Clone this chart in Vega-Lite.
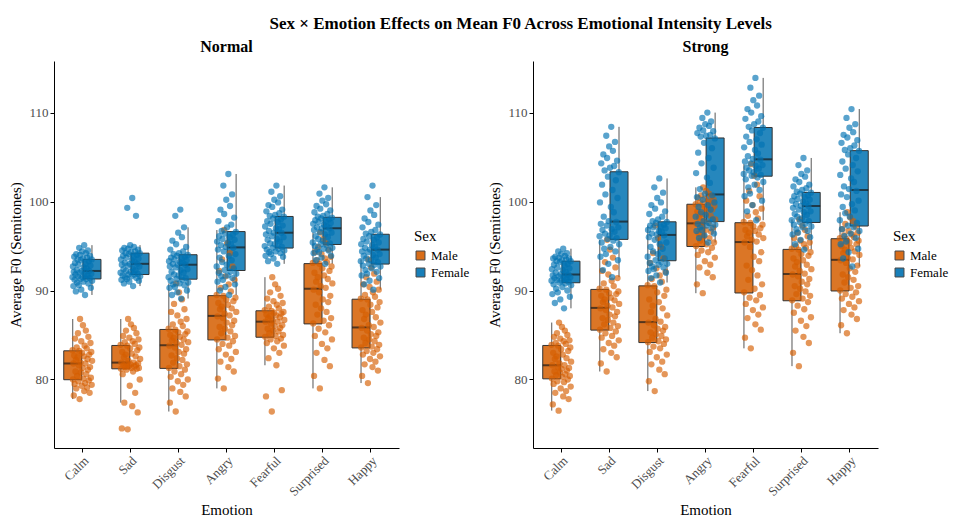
{
  "$schema": "https://vega.github.io/schema/vega-lite/v6.json",
  "background": "white",
  "padding": {"left": 8, "right": 0, "top": 15, "bottom": 0},
  "title": {"text": "Sex × Emotion Effects on Mean F0 Across Emotional Intensity Levels", "font": "Liberation Serif", "fontSize": 17, "fontWeight": "bold", "color": "black", "anchor": "middle", "offset": 6, "dx": 42},
  "config": {
    "font": "Liberation Serif",
    "view": {"stroke": null},
    "axis": {"domainColor": "black", "tickColor": "black", "labelColor": "#4d4d4d", "labelFontSize": 13, "titleFontSize": 15, "titleFontWeight": "normal", "titleColor": "black", "labelFont": "Liberation Serif", "titleFont": "Liberation Serif", "grid": false, "tickSize": 4, "domainWidth": 1, "tickWidth": 1},
    "legend": {"titleFont": "Liberation Serif", "labelFont": "Liberation Serif", "titleFontSize": 15, "titleFontWeight": "normal", "labelFontSize": 13, "titleColor": "black", "labelColor": "black", "symbolType": "square", "symbolSize": 80, "symbolStrokeColor": "#333333", "symbolStrokeWidth": 1, "symbolOpacity": 0.9, "rowPadding": 3}
  },
  "data": {"values": [
    {"Intensity":"Normal","Emotion":"Calm","Sex":"Male","F0":[77.8,78.2,78.5,78.7,79.0,79.1,79.3,79.4,79.5,79.6,79.8,79.9,80.0,80.1,80.2,80.4,80.6,80.8,80.9,81.1,81.3,81.4,81.6,81.8,81.8,81.9,82.1,82.2,82.3,82.5,82.6,82.7,82.8,83.0,83.1,83.2,83.3,83.5,83.6,83.8,84.1,84.3,84.6,84.8,85.2,85.5,86.1,86.8],"obs":[17,3,41,28,9,35,22,46,5,30,14,39,1,26,44,11,33,20,7,37,24,42,15,2,31,19,47,8,36,12,27,4,40,23,45,16,0,34,10,29,43,21,6,38,13,32,25,18]},
    {"Intensity":"Normal","Emotion":"Calm","Sex":"Female","F0":[89.5,89.9,90.1,90.3,90.5,90.6,90.8,90.9,91.0,91.1,91.2,91.3,91.3,91.4,91.5,91.5,91.6,91.7,91.8,91.9,91.9,92.0,92.1,92.2,92.2,92.3,92.5,92.6,92.7,92.8,92.9,93.0,93.1,93.3,93.4,93.5,93.5,93.6,93.7,93.8,93.9,94.0,94.1,94.2,94.4,94.5,94.8,95.1],"obs":[30,8,21,44,2,15,38,11,26,47,5,33,19,41,0,24,13,36,7,29,45,17,3,40,22,10,34,27,1,43,14,31,6,39,20,46,12,25,35,4,42,18,9,32,23,37,16,28]},
    {"Intensity":"Normal","Emotion":"Sad","Sex":"Male","F0":[74.4,74.5,76.3,77.0,77.4,78.5,79.3,80.0,80.6,80.9,81.1,81.2,81.2,81.3,81.3,81.4,81.5,81.5,81.6,81.6,81.7,81.8,81.8,81.9,81.9,82.1,82.3,82.5,82.6,82.8,82.9,83.1,83.3,83.5,83.6,83.8,83.9,84.0,84.2,84.3,84.5,84.7,84.9,85.2,85.5,85.8,86.2,86.8],"obs":[17,3,41,28,9,35,22,46,5,30,14,39,1,26,44,11,33,20,7,37,24,42,15,2,31,19,47,8,36,12,27,4,40,23,45,16,0,34,10,29,43,21,6,38,13,32,25,18]},
    {"Intensity":"Normal","Emotion":"Sad","Sex":"Female","F0":[90.5,90.8,91.0,91.1,91.2,91.3,91.4,91.5,91.6,91.6,91.7,91.8,91.8,91.9,92.0,92.1,92.2,92.3,92.4,92.5,92.7,92.8,92.9,93.0,93.0,93.1,93.2,93.4,93.5,93.6,93.7,93.8,93.9,94.0,94.1,94.2,94.2,94.3,94.4,94.5,94.6,94.7,94.8,94.9,95.1,98.4,99.3,100.4],"obs":[30,8,21,44,2,15,38,11,26,47,5,33,19,41,0,24,13,36,7,29,45,17,3,40,22,10,34,27,1,43,14,31,6,39,20,46,12,25,35,4,42,18,9,32,23,37,16,28]},
    {"Intensity":"Normal","Emotion":"Disgust","Sex":"Male","F0":[76.4,77.4,78.1,78.6,79.0,79.4,79.8,80.0,80.3,80.6,80.9,81.1,81.3,81.5,81.7,81.9,82.2,82.4,82.7,82.9,83.1,83.4,83.6,83.8,83.9,84.1,84.2,84.4,84.5,84.7,84.8,85.0,85.1,85.3,85.4,85.6,85.7,86.0,86.2,86.5,86.8,87.2,87.6,87.9,88.5,89.0,89.8,90.8],"obs":[17,3,41,28,9,35,22,46,5,30,14,39,1,26,44,11,33,20,7,37,24,42,15,2,31,19,47,8,36,12,27,4,40,23,45,16,0,34,10,29,43,21,6,38,13,32,25,18]},
    {"Intensity":"Normal","Emotion":"Disgust","Sex":"Female","F0":[89.1,89.5,89.8,90.0,90.3,90.4,90.6,90.7,90.8,90.9,91.1,91.2,91.3,91.4,91.5,91.7,91.8,92.0,92.1,92.3,92.4,92.6,92.7,92.9,92.9,93.0,93.1,93.2,93.3,93.4,93.5,93.6,93.7,93.8,93.9,94.0,94.1,94.2,94.4,94.6,94.9,95.2,95.6,96.0,96.5,97.1,98.4,99.1],"obs":[30,8,21,44,2,15,38,11,26,47,5,33,19,41,0,24,13,36,7,29,45,17,3,40,22,10,34,27,1,43,14,31,6,39,20,46,12,25,35,4,42,18,9,32,23,37,16,28]},
    {"Intensity":"Normal","Emotion":"Angry","Sex":"Male","F0":[79.0,80.1,80.9,81.4,82.0,82.3,82.8,83.1,83.4,83.8,84.0,84.3,84.5,84.7,84.9,85.2,85.4,85.7,85.9,86.1,86.4,86.6,86.9,87.1,87.2,87.4,87.6,87.9,88.0,88.2,88.4,88.6,88.8,89.0,89.2,89.4,89.5,89.9,90.3,90.7,91.2,91.6,92.2,92.7,93.5,94.2,95.3,96.8],"obs":[17,3,41,28,9,35,22,46,5,30,14,39,1,26,44,11,33,20,7,37,24,42,15,2,31,19,47,8,36,12,27,4,40,23,45,16,0,34,10,29,43,21,6,38,13,32,25,18]},
    {"Intensity":"Normal","Emotion":"Angry","Sex":"Female","F0":[89.5,90.0,90.4,90.7,91.0,91.2,91.4,91.6,91.7,91.9,92.0,92.1,92.3,92.5,92.7,92.9,93.2,93.4,93.7,93.9,94.1,94.4,94.6,94.8,94.9,95.1,95.2,95.4,95.5,95.7,95.8,96.0,96.1,96.3,96.4,96.6,96.7,97.1,97.4,97.8,98.2,98.6,99.1,99.5,100.2,100.8,101.8,103.1],"obs":[30,8,21,44,2,15,38,11,26,47,5,33,19,41,0,24,13,36,7,29,45,17,3,40,22,10,34,27,1,43,14,31,6,39,20,46,12,25,35,4,42,18,9,32,23,37,16,28]},
    {"Intensity":"Normal","Emotion":"Fearful","Sex":"Male","F0":[76.4,78.1,78.8,81.6,82.4,83.0,83.5,83.8,84.1,84.3,84.5,84.6,84.8,84.9,85.0,85.2,85.4,85.5,85.7,85.8,86.0,86.1,86.3,86.5,86.5,86.6,86.7,86.9,87.0,87.1,87.2,87.3,87.4,87.5,87.6,87.7,87.8,88.0,88.2,88.4,88.6,88.8,89.1,89.4,89.8,90.2,90.7,91.5],"obs":[17,3,41,28,9,35,22,46,5,30,14,39,1,26,44,11,33,20,7,37,24,42,15,2,31,19,47,8,36,12,27,4,40,23,45,16,0,34,10,29,43,21,6,38,13,32,25,18]},
    {"Intensity":"Normal","Emotion":"Fearful","Sex":"Female","F0":[93.0,93.3,93.6,93.8,93.9,94.1,94.2,94.3,94.4,94.5,94.6,94.7,94.8,94.9,95.0,95.2,95.3,95.5,95.7,95.8,96.0,96.1,96.3,96.5,96.5,96.7,96.9,97.0,97.2,97.3,97.5,97.7,97.8,98.0,98.1,98.3,98.4,98.5,98.7,98.9,99.1,99.4,99.6,99.9,100.2,100.6,101.1,101.8],"obs":[30,8,21,44,2,15,38,11,26,47,5,33,19,41,0,24,13,36,7,29,45,17,3,40,22,10,34,27,1,43,14,31,6,39,20,46,12,25,35,4,42,18,9,32,23,37,16,28]},
    {"Intensity":"Normal","Emotion":"Surprised","Sex":"Male","F0":[79.0,80.4,81.5,82.2,83.0,83.5,84.0,84.5,84.9,85.3,85.7,86.1,86.3,86.6,86.9,87.3,87.6,88.0,88.4,88.7,89.0,89.4,89.8,90.1,90.3,90.5,90.8,91.0,91.3,91.5,91.7,92.0,92.2,92.5,92.7,93.0,93.1,93.2,93.4,93.6,93.8,94.1,94.3,94.6,94.9,95.3,95.8,96.5],"obs":[17,3,41,28,9,35,22,46,5,30,14,39,1,26,44,11,33,20,7,37,24,42,15,2,31,19,47,8,36,12,27,4,40,23,45,16,0,34,10,29,43,21,6,38,13,32,25,18]},
    {"Intensity":"Normal","Emotion":"Surprised","Sex":"Female","F0":[93.0,93.4,93.7,93.9,94.2,94.3,94.5,94.6,94.7,94.8,95.0,95.1,95.2,95.3,95.4,95.6,95.8,96.0,96.1,96.3,96.5,96.6,96.8,97.0,97.0,97.1,97.2,97.4,97.5,97.6,97.7,97.8,97.9,98.0,98.1,98.2,98.3,98.4,98.6,98.8,99.0,99.2,99.5,99.7,100.1,100.4,100.9,101.6],"obs":[30,8,21,44,2,15,38,11,26,47,5,33,19,41,0,24,13,36,7,29,45,17,3,40,22,10,34,27,1,43,14,31,6,39,20,46,12,25,35,4,42,18,9,32,23,37,16,28]},
    {"Intensity":"Normal","Emotion":"Happy","Sex":"Male","F0":[79.6,80.4,81.0,81.4,81.7,82.0,82.3,82.6,82.8,83.0,83.2,83.4,83.6,83.7,83.9,84.1,84.3,84.5,84.7,84.9,85.1,85.3,85.5,85.8,85.9,86.1,86.4,86.8,87.0,87.3,87.6,87.8,88.1,88.4,88.7,89.0,89.1,89.3,89.5,89.8,90.1,90.4,90.7,91.0,91.5,91.9,92.6,93.5],"obs":[17,3,41,28,9,35,22,46,5,30,14,39,1,26,44,11,33,20,7,37,24,42,15,2,31,19,47,8,36,12,27,4,40,23,45,16,0,34,10,29,43,21,6,38,13,32,25,18]},
    {"Intensity":"Normal","Emotion":"Happy","Sex":"Female","F0":[90.1,90.7,91.1,91.4,91.7,91.9,92.1,92.3,92.5,92.7,92.8,92.9,93.0,93.2,93.3,93.4,93.6,93.7,93.9,94.0,94.1,94.3,94.4,94.6,94.6,94.8,94.9,95.1,95.2,95.4,95.5,95.7,95.8,96.0,96.1,96.3,96.4,96.6,96.8,97.1,97.4,97.7,98.1,98.5,99.0,99.6,100.5,101.8],"obs":[30,8,21,44,2,15,38,11,26,47,5,33,19,41,0,24,13,36,7,29,45,17,3,40,22,10,34,27,1,43,14,31,6,39,20,46,12,25,35,4,42,18,9,32,23,37,16,28]},
    {"Intensity":"Strong","Emotion":"Calm","Sex":"Male","F0":[76.5,77.2,77.8,78.1,78.5,78.7,79.0,79.2,79.5,79.7,79.8,80.0,80.1,80.3,80.4,80.5,80.6,80.8,80.9,81.0,81.2,81.3,81.4,81.6,81.6,81.8,82.0,82.3,82.4,82.6,82.8,83.0,83.2,83.4,83.6,83.8,83.9,84.0,84.1,84.3,84.4,84.6,84.8,85.0,85.2,85.5,85.9,86.4],"obs":[17,3,41,28,9,35,22,46,5,30,14,39,1,26,44,11,33,20,7,37,24,42,15,2,31,19,47,8,36,12,27,4,40,23,45,16,0,34,10,29,43,21,6,38,13,32,25,18]},
    {"Intensity":"Strong","Emotion":"Calm","Sex":"Female","F0":[88.0,88.6,89.0,89.3,89.6,89.8,90.0,90.2,90.4,90.6,90.7,90.8,90.9,91.0,91.1,91.1,91.2,91.3,91.4,91.5,91.5,91.6,91.7,91.8,91.8,92.0,92.1,92.3,92.4,92.5,92.6,92.8,92.9,93.0,93.2,93.3,93.3,93.4,93.5,93.6,93.6,93.7,93.8,93.9,94.1,94.2,94.4,94.7],"obs":[30,8,21,44,2,15,38,11,26,47,5,33,19,41,0,24,13,36,7,29,45,17,3,40,22,10,34,27,1,43,14,31,6,39,20,46,12,25,35,4,42,18,9,32,23,37,16,28]},
    {"Intensity":"Strong","Emotion":"Sad","Sex":"Male","F0":[80.9,81.8,82.5,83.0,83.4,83.8,84.1,84.4,84.7,84.9,85.2,85.4,85.6,85.8,86.0,86.2,86.4,86.7,86.9,87.1,87.3,87.6,87.8,88.0,88.1,88.3,88.5,88.7,88.9,89.0,89.2,89.4,89.6,89.7,89.9,90.1,90.2,90.5,90.8,91.1,91.4,91.8,92.2,92.6,93.2,93.7,94.6,95.7],"obs":[17,3,41,28,9,35,22,46,5,30,14,39,1,26,44,11,33,20,7,37,24,42,15,2,31,19,47,8,36,12,27,4,40,23,45,16,0,34,10,29,43,21,6,38,13,32,25,18]},
    {"Intensity":"Strong","Emotion":"Sad","Sex":"Female","F0":[91.5,92.3,93.0,93.4,93.8,94.1,94.4,94.7,94.9,95.2,95.4,95.6,95.8,95.9,96.1,96.2,96.4,96.6,96.8,96.9,97.1,97.3,97.5,97.7,97.8,98.3,98.8,99.4,99.9,100.4,100.8,101.3,101.9,102.4,102.8,103.3,103.5,103.8,104.0,104.3,104.6,104.9,105.3,105.7,106.2,106.7,107.4,108.4],"obs":[30,8,21,44,2,15,38,11,26,47,5,33,19,41,0,24,13,36,7,29,45,17,3,40,22,10,34,27,1,43,14,31,6,39,20,46,12,25,35,4,42,18,9,32,23,37,16,28]},
    {"Intensity":"Strong","Emotion":"Disgust","Sex":"Male","F0":[78.7,79.8,80.6,81.1,81.7,82.0,82.5,82.8,83.1,83.5,83.7,84.0,84.2,84.3,84.5,84.7,84.9,85.1,85.3,85.5,85.7,85.9,86.1,86.4,86.5,86.8,87.2,87.6,88.0,88.3,88.7,89.0,89.4,89.8,90.1,90.5,90.6,91.0,91.3,91.7,92.1,92.5,93.1,93.6,94.2,94.9,95.9,97.3],"obs":[17,3,41,28,9,35,22,46,5,30,14,39,1,26,44,11,33,20,7,37,24,42,15,2,31,19,47,8,36,12,27,4,40,23,45,16,0,34,10,29,43,21,6,38,13,32,25,18]},
    {"Intensity":"Strong","Emotion":"Disgust","Sex":"Female","F0":[90.9,91.4,91.7,92.0,92.2,92.4,92.6,92.7,92.9,93.0,93.1,93.2,93.4,93.6,93.8,94.1,94.4,94.7,94.9,95.2,95.4,95.7,96.0,96.2,96.3,96.4,96.6,96.7,96.8,97.0,97.1,97.2,97.3,97.4,97.6,97.7,97.8,98.0,98.3,98.6,98.9,99.2,99.6,99.9,100.4,101.0,101.6,102.6],"obs":[30,8,21,44,2,15,38,11,26,47,5,33,19,41,0,24,13,36,7,29,45,17,3,40,22,10,34,27,1,43,14,31,6,39,20,46,12,25,35,4,42,18,9,32,23,37,16,28]},
    {"Intensity":"Strong","Emotion":"Angry","Sex":"Male","F0":[89.7,90.7,91.5,92.0,92.6,92.9,93.3,93.7,94.0,94.3,94.5,94.8,95.0,95.2,95.4,95.6,95.9,96.1,96.4,96.6,96.8,97.1,97.3,97.5,97.6,97.8,98.0,98.2,98.4,98.6,98.8,98.9,99.1,99.3,99.5,99.7,99.7,99.8,99.9,100.0,100.2,100.3,100.4,100.6,100.7,100.9,101.2,101.6],"obs":[17,3,41,28,9,35,22,46,5,30,14,39,1,26,44,11,33,20,7,37,24,42,15,2,31,19,47,8,36,12,27,4,40,23,45,16,0,34,10,29,43,21,6,38,13,32,25,18]},
    {"Intensity":"Strong","Emotion":"Angry","Sex":"Female","F0":[95.4,95.9,96.2,96.4,96.7,96.8,97.0,97.1,97.3,97.4,97.5,97.6,97.8,98.0,98.3,98.5,98.8,99.1,99.4,99.6,99.9,100.2,100.5,100.7,100.9,101.4,102.1,102.7,103.2,103.8,104.3,104.9,105.5,106.0,106.6,107.1,107.3,107.4,107.5,107.7,107.9,108.0,108.3,108.5,108.7,109.0,109.4,110.0],"obs":[30,8,21,44,2,15,38,11,26,47,5,33,19,41,0,24,13,36,7,29,45,17,3,40,22,10,34,27,1,43,14,31,6,39,20,46,12,25,35,4,42,18,9,32,23,37,16,28]},
    {"Intensity":"Strong","Emotion":"Fearful","Sex":"Male","F0":[83.5,84.7,85.6,86.2,86.9,87.3,87.8,88.1,88.5,88.9,89.2,89.5,89.8,90.2,90.7,91.2,91.7,92.3,92.8,93.3,93.8,94.3,94.9,95.4,95.5,95.7,95.9,96.1,96.3,96.5,96.7,96.8,97.0,97.2,97.4,97.6,97.7,98.1,98.4,98.8,99.2,99.6,100.1,100.6,101.2,101.9,102.9,104.2],"obs":[17,3,41,28,9,35,22,46,5,30,14,39,1,26,44,11,33,20,7,37,24,42,15,2,31,19,47,8,36,12,27,4,40,23,45,16,0,34,10,29,43,21,6,38,13,32,25,18]},
    {"Intensity":"Strong","Emotion":"Fearful","Sex":"Female","F0":[97.9,98.9,99.6,100.1,100.6,100.9,101.3,101.6,101.9,102.2,102.5,102.7,102.9,103.0,103.1,103.3,103.5,103.7,103.8,104.0,104.1,104.3,104.5,104.7,104.8,105.1,105.4,105.8,106.1,106.4,106.7,107.0,107.3,107.7,108.0,108.3,108.4,108.7,109.0,109.3,109.6,110.0,110.4,110.8,111.4,111.9,112.8,113.9],"obs":[30,8,21,44,2,15,38,11,26,47,5,33,19,41,0,24,13,36,7,29,45,17,3,40,22,10,34,27,1,43,14,31,6,39,20,46,12,25,35,4,42,18,9,32,23,37,16,28]},
    {"Intensity":"Strong","Emotion":"Surprised","Sex":"Male","F0":[81.5,83.0,84.1,84.8,85.5,86.0,86.6,87.0,87.5,87.9,88.3,88.7,88.9,89.1,89.4,89.6,89.9,90.2,90.5,90.7,91.0,91.3,91.6,91.8,91.9,92.2,92.4,92.7,92.9,93.2,93.4,93.6,93.9,94.1,94.3,94.6,94.7,94.8,95.0,95.2,95.4,95.6,95.9,96.1,96.5,96.8,97.3,98.0],"obs":[17,3,41,28,9,35,22,46,5,30,14,39,1,26,44,11,33,20,7,37,24,42,15,2,31,19,47,8,36,12,27,4,40,23,45,16,0,34,10,29,43,21,6,38,13,32,25,18]},
    {"Intensity":"Strong","Emotion":"Surprised","Sex":"Female","F0":[94.6,95.2,95.7,96.0,96.3,96.5,96.7,96.9,97.1,97.2,97.4,97.5,97.7,97.8,97.9,98.1,98.3,98.5,98.6,98.8,98.9,99.1,99.3,99.5,99.5,99.7,99.8,100.0,100.1,100.2,100.3,100.5,100.6,100.7,100.9,101.0,101.1,101.3,101.5,101.7,101.9,102.2,102.5,102.8,103.1,103.5,104.1,104.9],"obs":[30,8,21,44,2,15,38,11,26,47,5,33,19,41,0,24,13,36,7,29,45,17,3,40,22,10,34,27,1,43,14,31,6,39,20,46,12,25,35,4,42,18,9,32,23,37,16,28]},
    {"Intensity":"Strong","Emotion":"Happy","Sex":"Male","F0":[85.2,86.1,86.8,87.3,87.8,88.1,88.5,88.8,89.1,89.3,89.6,89.8,90.0,90.3,90.5,90.9,91.2,91.5,91.8,92.1,92.5,92.8,93.1,93.4,93.5,93.7,94.0,94.2,94.4,94.6,94.8,95.0,95.2,95.4,95.6,95.8,95.9,96.0,96.2,96.3,96.5,96.7,96.9,97.2,97.5,97.8,98.2,98.8],"obs":[17,3,41,28,9,35,22,46,5,30,14,39,1,26,44,11,33,20,7,37,24,42,15,2,31,19,47,8,36,12,27,4,40,23,45,16,0,34,10,29,43,21,6,38,13,32,25,18]},
    {"Intensity":"Strong","Emotion":"Happy","Sex":"Female","F0":[92.7,93.6,94.3,94.7,95.2,95.5,95.9,96.1,96.4,96.7,96.9,97.1,97.3,97.6,97.9,98.3,98.7,99.0,99.4,99.7,100.1,100.5,100.8,101.2,101.4,101.7,102.2,102.6,103.0,103.4,103.7,104.1,104.5,104.9,105.3,105.7,105.8,106.0,106.3,106.6,106.9,107.2,107.5,107.8,108.3,108.7,109.4,110.4],"obs":[30,8,21,44,2,15,38,11,26,47,5,33,19,41,0,24,13,36,7,29,45,17,3,40,22,10,34,27,1,43,14,31,6,39,20,46,12,25,35,4,42,18,9,32,23,37,16,28]}
  ]},
  "spacing": 17,
  "hconcat": [
    {
      "title": {"text": "Normal", "font": "Liberation Serif", "fontSize": 16, "fontWeight": "bold", "color": "black", "anchor": "middle", "offset": 6},
      "width": 345,
      "height": 387,
      "transform": [{"flatten": ["F0", "obs"]}, {"filter": "datum.Intensity === 'Normal'"}],
      "encoding": {
        "x": {"field": "Emotion", "type": "nominal", "sort": ["Calm", "Sad", "Disgust", "Angry", "Fearful", "Surprised", "Happy"], "scale": {"paddingInner": 0, "paddingOuter": 0.09}, "axis": {"labelAngle": -45, "title": "Emotion", "labelPadding": 2, "titlePadding": 4}},
        "y": {"field": "F0", "type": "quantitative", "scale": {"domain": [72.3, 115.8], "nice": false, "zero": false}, "axis": {"values": [80, 90, 100, 110], "title": "Average F0 (Semitones)", "titlePadding": 5}},
        "color": {"field": "Sex", "type": "nominal", "sort": ["Male", "Female"], "scale": {"domain": ["Male", "Female"], "range": ["#D55E00", "#0072B2"]}, "legend": {"title": "Sex", "orient": "none", "legendX": 360, "legendY": 168}}
      },
      "layer": [
        {"mark": {"type": "boxplot", "extent": 1.5, "outliers": false, "size": 18, "box": {"stroke": "#333333", "strokeWidth": 1, "fillOpacity": 0.85}, "median": {"color": "#1a1a1a", "thickness": 2}, "rule": {"color": "#555555", "strokeWidth": 1}},
         "encoding": {"xOffset": {"field": "Sex", "type": "nominal", "sort": ["Male", "Female"], "scale": {"paddingInner": 0, "paddingOuter": 0.25}}}},
        {"mark": {"type": "circle", "size": 40, "opacity": 0.65},
         "encoding": {"xOffset": {"field": "obs", "type": "nominal", "scale": {"range": [14, 34]}}}}
      ],
      "resolve": {"scale": {"xOffset": "independent"}}
    },
    {
      "title": {"text": "Strong", "font": "Liberation Serif", "fontSize": 16, "fontWeight": "bold", "color": "black", "anchor": "middle", "offset": 6},
      "width": 345,
      "height": 387,
      "transform": [{"flatten": ["F0", "obs"]}, {"filter": "datum.Intensity === 'Strong'"}],
      "encoding": {
        "x": {"field": "Emotion", "type": "nominal", "sort": ["Calm", "Sad", "Disgust", "Angry", "Fearful", "Surprised", "Happy"], "scale": {"paddingInner": 0, "paddingOuter": 0.09}, "axis": {"labelAngle": -45, "title": "Emotion", "labelPadding": 2, "titlePadding": 4}},
        "y": {"field": "F0", "type": "quantitative", "scale": {"domain": [72.3, 115.8], "nice": false, "zero": false}, "axis": {"values": [80, 90, 100, 110], "title": "Average F0 (Semitones)", "titlePadding": 5}},
        "color": {"field": "Sex", "type": "nominal", "sort": ["Male", "Female"], "scale": {"domain": ["Male", "Female"], "range": ["#D55E00", "#0072B2"]}, "legend": {"title": "Sex", "orient": "none", "legendX": 360, "legendY": 168}}
      },
      "layer": [
        {"mark": {"type": "boxplot", "extent": 1.5, "outliers": false, "size": 18, "box": {"stroke": "#333333", "strokeWidth": 1, "fillOpacity": 0.85}, "median": {"color": "#1a1a1a", "thickness": 2}, "rule": {"color": "#555555", "strokeWidth": 1}},
         "encoding": {"xOffset": {"field": "Sex", "type": "nominal", "sort": ["Male", "Female"], "scale": {"paddingInner": 0, "paddingOuter": 0.25}}}},
        {"mark": {"type": "circle", "size": 40, "opacity": 0.65},
         "encoding": {"xOffset": {"field": "obs", "type": "nominal", "scale": {"range": [14, 34]}}}}
      ],
      "resolve": {"scale": {"xOffset": "independent"}}
    }
  ],
  "resolve": {"legend": {"color": "independent"}, "scale": {"color": "independent"}}
}
